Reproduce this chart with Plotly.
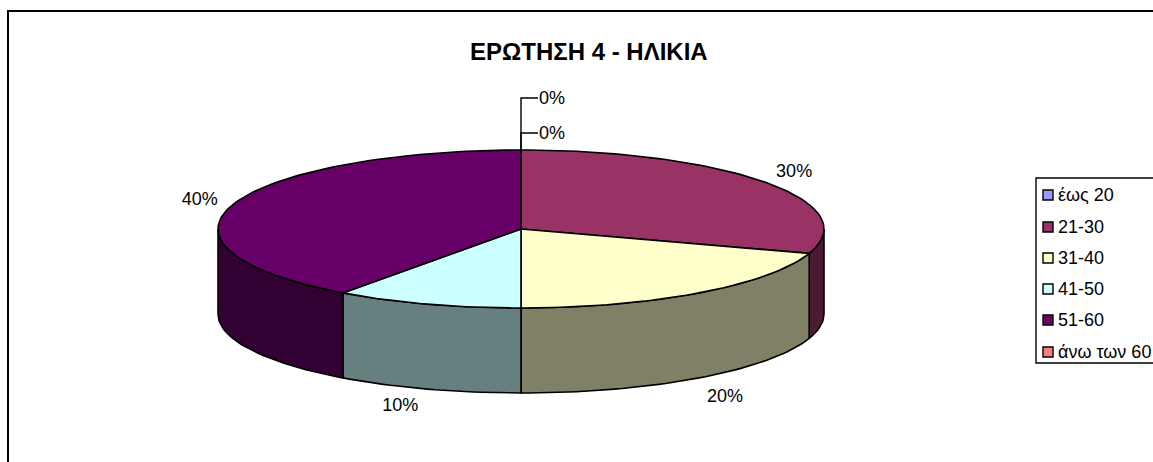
import numpy as np
import plotly.graph_objects as go

# Data
categories = ["έως 20", "21-30", "31-40", "41-50", "51-60", "άνω των 60"]
values = [0, 30, 20, 10, 40, 0]
top_colors = ["#9999FF", "#993366", "#FFFFCC", "#CCFFFF", "#660066", "#FF8080"]
side_colors = ["#4D4D80", "#4D1A33", "#808066", "#668080", "#330033", "#804040"]
title_text = "ΕΡΩΤΗΣΗ 4 - ΗΛΙΚΙΑ"

# Layout constants (pixel-like axis units)
W, H = 1153, 462
CX, CY, RX, RY, DEPTH = 521, 229, 303, 79, 85
FONT = "Liberation Sans, Arial, sans-serif"
LABEL_SIZE = 18
TEXT_DY = 1.5
LABEL_OFFSETS = {1: (28, -11.5, False), 2: (26, 18, True), 3: (-27, 16, True), 4: (-33, -6, False)}
ZERO_ROWS = [98, 133]
LEGEND_ROWS = [195, 227, 258, 289, 320, 352]


def ell(theta_deg, drop=0.0):
    t = np.radians(theta_deg)
    return CX + RX * np.sin(t), CY - RY * np.cos(t) + drop


def arc(a, b):
    n = max(2, int(abs(b - a) / 1.5) + 1)
    return np.linspace(a, b, n)


fig = go.Figure()
total = sum(values)
bounds = np.concatenate([[0], np.cumsum(values) / total * 360])

LINE = dict(color="black", width=1.6)


def poly(xs, ys, color):
    fig.add_trace(go.Scatter(x=list(xs), y=list(ys), mode="lines", fill="toself",
                             fillcolor=color, line=LINE, hoverinfo="skip", showlegend=False))


# side walls (front half only)
for i, v in enumerate(values):
    if v == 0:
        continue
    a, b = max(bounds[i], 90), min(bounds[i + 1], 270)
    if a >= b:
        continue
    th = arc(a, b)
    x1, y1 = ell(th)
    x2, y2 = ell(th[::-1], DEPTH)
    poly(np.r_[x1, x2, x1[0]], np.r_[y1, y2, y1[0]], side_colors[i])

# top slices
for i, v in enumerate(values):
    if v == 0:
        continue
    th = arc(bounds[i], bounds[i + 1])
    x1, y1 = ell(th)
    poly(np.r_[CX, x1, CX], np.r_[CY, y1, CY], top_colors[i])

# percentage labels
lx, ly, lt = [], [], []
for i, (dx, dy, low) in LABEL_OFFSETS.items():
    px, py = ell((bounds[i] + bounds[i + 1]) / 2, DEPTH if low else 0)
    lx.append(px + dx)
    ly.append(py + dy + TEXT_DY)
    lt.append(f"{round(values[i] / total * 100)}%")
fig.add_trace(go.Scatter(x=lx, y=ly, mode="text", text=lt, textposition="middle center",
                         textfont=dict(family=FONT, size=LABEL_SIZE, color="black"),
                         hoverinfo="skip", showlegend=False))

# zero-value leaders
zero_idx = [i for i, v in enumerate(values) if v == 0]
for row, i in zip(ZERO_ROWS, zero_idx):
    fig.add_trace(go.Scatter(x=[CX, CX, CX + 17], y=[CY - RY, row, row], mode="lines",
                             line=dict(color="black", width=1.4), hoverinfo="skip", showlegend=False))
fig.add_trace(go.Scatter(x=[CX + 18] * len(zero_idx), y=[r + TEXT_DY for r in ZERO_ROWS[:len(zero_idx)]],
                         mode="text", text=[f"{values[i]}%" for i in zero_idx], textposition="middle right",
                         textfont=dict(family=FONT, size=LABEL_SIZE, color="black"),
                         hoverinfo="skip", showlegend=False))

# legend
fig.add_trace(go.Scatter(x=[1048] * len(categories), y=LEGEND_ROWS, mode="markers",
                         marker=dict(symbol="square", size=10, color=top_colors,
                                     line=dict(color="black", width=1.4)),
                         hoverinfo="skip", showlegend=False))
fig.add_trace(go.Scatter(x=[1058] * len(categories), y=[r + TEXT_DY for r in LEGEND_ROWS], mode="text",
                         text=categories, textposition="middle right",
                         textfont=dict(family=FONT, size=LABEL_SIZE, color="black"),
                         hoverinfo="skip", showlegend=False))

fig.update_layout(
    width=W, height=H, margin=dict(l=0, r=0, t=0, b=0),
    paper_bgcolor="white", plot_bgcolor="white", showlegend=False,
    xaxis=dict(range=[0, W], visible=False, fixedrange=True),
    yaxis=dict(range=[H, 0], visible=False, fixedrange=True),
    shapes=[
        dict(type="rect", xref="x", yref="y", x0=8, y0=11, x1=W + 20, y1=H + 20,
             line=dict(color="black", width=2), fillcolor="rgba(0,0,0,0)", layer="below"),
        dict(type="rect", xref="x", yref="y", x0=1036, y0=178, x1=W + 20, y1=363,
             line=dict(color="black", width=1.4), fillcolor="white", layer="below"),
    ],
    annotations=[dict(text=f"<b>{title_text}</b>", x=588.5, y=51, xref="x", yref="y", showarrow=False,
                      font=dict(family=FONT, size=24, color="black"))],
)

fig.write_html("out.html", post_script="document.body.style.margin='0';document.body.style.overflow='hidden';",
               config=dict(displayModeBar=False))
